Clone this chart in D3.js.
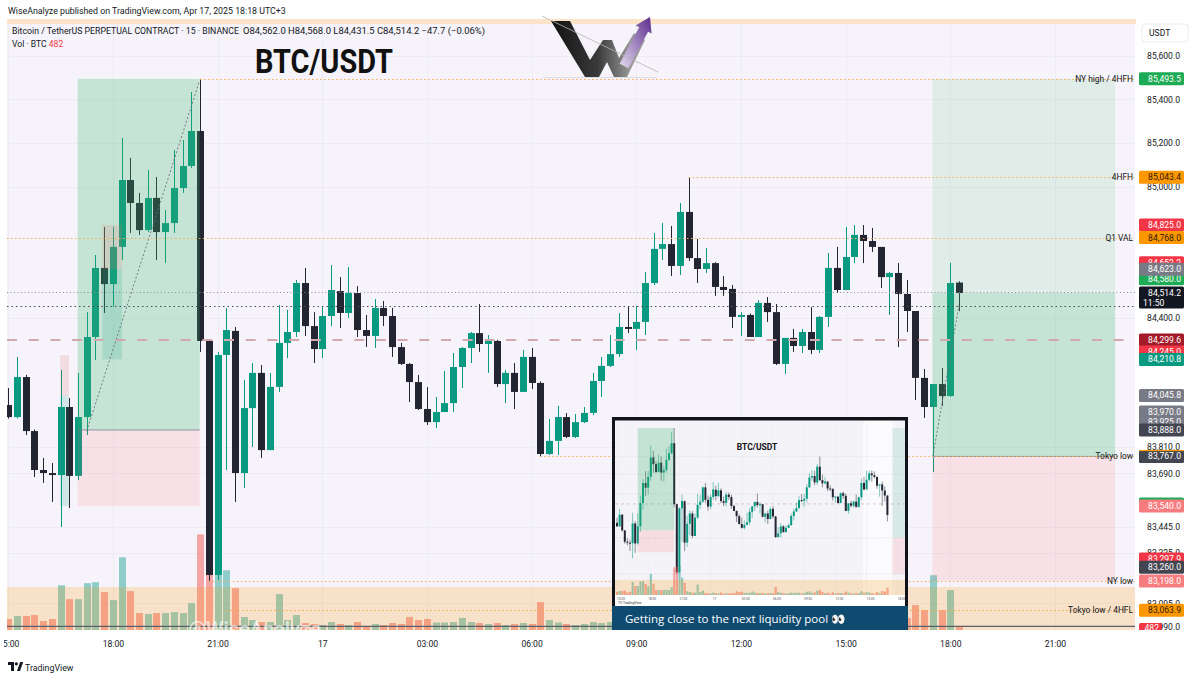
<!DOCTYPE html>
<html><head><meta charset="utf-8">
<script src="https://cdn.jsdelivr.net/npm/d3@7/dist/d3.min.js"></script>
<style>
html,body{margin:0;padding:0;background:#fff;}
svg{display:block;font-family:Roboto,"Noto Sans",sans-serif;}
</style></head><body>
<svg id="chart" width="1200" height="680"></svg>
<script>
// ---------------- DATA ----------------
const opens = [84002,83947,84130,83883,83705,83691,83682,83993,83678,83947,
84313,84629,84555,84725,85031,84926,84802,84949,84793,84834,
84994,85095,85255,84295,83225,84231,84341,83691,83988,84149,
83796,84085,84286,84336,84560,84363,84258,84409,84523,84423,
84514,84345,84318,84446,84409,84267,84190,84107,83984,83924,
83970,84011,84176,84263,84331,84281,84295,84098,84149,84062,
84222,84103,83778,83838,83947,83856,83924,83966,84112,84181,
84235,84359,84350,84382,84560,84716,84738,84638,84885,84674,
84624,84651,84542,84533,84405,84414,84313,84469,84427,84190,
84309,84272,84336,84254,84405,84629,84528,84679,84780,84752,
84725,84587,84606,84510,84432,84126,83993,84098,84043,84562];
const highs = [84080,84222,84140,83890,83760,83737,84162,84034,84149,84427,
84688,84816,84816,85223,85132,84972,85077,85045,84894,85168,
85214,85433,85493.5,84300,84245,84446,84359,84117,84194,84185,
84149,84459,84437,84574,84629,84427,84450,84642,84587,84633,
84546,84414,84487,84478,84446,84286,84194,84139,84084,84039,
84158,84240,84267,84336,84464,84322,84300,84162,84194,84254,
84263,84110,83938,83998,83966,83961,83993,84149,84222,84322,
84423,84455,84455,84610,84789,84834,84821,84926,85043.4,84761,
84720,84655,84592,84551,84427,84420,84482,84496,84464,84309,
84350,84350,84450,84409,84697,84725,84816,84825,84825,84812,
84725,84610,84651,84574,84432,84167,84098,84171,84652.2,84568];
const lows = [83940,83940,83865,83673,83646,83559,83444,83531,83659,83865,
84208,84423,84450,84665,84789,84780,84793,84665,84651,84789,
84972,85086,84245,83198,83202,83705,83559,83623,83810,83760,
83796,84062,84217,84313,84318,84194,84217,84363,84354,84400,
84313,84267,84263,84363,84222,84185,84016,83979,83911,83897,
83970,83970,84080,84194,84245,84149,84084,84011,83984,84062,
84075,83767,83774,83774,83851,83851,83920,83956,84039,84176,
84222,84331,84254,84322,84551,84665,84592,84597,84661,84560,
84606,84501,84501,84354,84318,84313,84313,84382,84185,84144,
84245,84240,84235,84240,84359,84514,84528,84651,84651,84702,
84537,84414,84267,84336,84025,83943,83696,83998,84039,84431.5];
const closes = [83947,84130,83883,83705,83691,83682,83993,83678,83947,84313,
84629,84555,84725,85031,84926,84802,84949,84793,84834,84994,
85095,85255,84295,83225,84231,84345,83691,83988,84149,83796,
84085,84286,84336,84560,84363,84258,84409,84528,84423,84514,
84345,84318,84446,84409,84267,84190,84107,83984,83924,83970,
84011,84176,84263,84331,84281,84295,84098,84149,84062,84222,
84103,83778,83838,83947,83856,83924,83966,84112,84181,84235,
84359,84350,84382,84560,84716,84738,84638,84885,84674,84624,
84651,84542,84528,84405,84414,84313,84469,84427,84190,84309,
84272,84336,84254,84405,84629,84528,84679,84780,84752,84725,
84587,84606,84510,84432,84126,83993,84098,84043,84560,84514.2];
const volumes = [1320,1680,1680,1800,1080,1320,5400,3720,3720,5640,
5760,4560,3600,8760,4680,2040,1920,2040,2040,2160,
2040,3240,11520,11640,12000,7200,5040,1560,1200,960,
960,4320,1200,1800,840,720,600,960,720,600,
960,480,720,600,840,720,1560,1200,1320,900,
900,960,1440,960,840,720,840,600,720,840,
720,3360,1200,900,720,600,720,960,840,960,
900,600,840,1320,1500,900,1080,1800,2100,1200,
720,960,600,1080,600,720,840,600,1440,960,
600,600,720,720,1560,960,1200,1080,720,600,
1200,840,1680,1440,3000,2400,6600,2400,4800,482];

const timeTickIndex = [0,12,24,36,48,60,72,84,96,108,120];
const timeTickLabels = ["15:00","18:00","21:00","17","03:00","06:00","09:00","12:00","15:00","18:00","21:00"];
const priceTicks = [85600,85400,85200,85000,84400,83810,83690,83445,83325,83095,82990];

const levelNames  = ["NY high / 4HFH","4HFH","Q1 VAL","Tokyo low","NY low","Tokyo low / 4HFL"];
const levelPrices = [85493.5,85043.4,84768.0,83767.0,83198.0,83063.9];
const levelStart  = [22,78,-2,61,23,25];

const tagPrices = [84652.2,84580.0,84623.0,85493.5,85043.4,84825.0,84768.0,84299.6,84245.0,84210.8,84045.8,83970.0,83925.0,83888.0,83767.0,83550.0,83540.0,83297.9,83260.0,83198.0,83063.9];
const tagColors = ["#f23645","#1eab55","#787b86","#1eab55","#ff9800","#f23645","#ff9800","#a31b28","#f23645","#089981","#787b86","#787b86","#787b86","#434651","#434651","#1eab55","#f77c80","#f23645","#434651","#f77c80","#ff9800"];
const lastPrice = 84514.2, lastCountdown = "11:50", lastVolume = 482;
const dashedLevel = 84299.6, prevLevel = 84455, baseLine = 82990, bandTop = 83170;

// position tools: [startIdx, endIdx, target, entry, stop]
const posLeft  = [7.95, 21.95, 85493.5, 83888.0, 83540.0];
const posRight = [105.95, 126.9, 85493.5, 83767.0, 83198.0];

// ---------------- SCALES ----------------
const svg = d3.select("#chart");
const defs = svg.append("defs");
const PL=7, PR=1135, PT=24, PB=630;
const xS = d3.scaleLinear().domain([0,108]).range([8.2, 8.2+108*8.723]);
const yS = d3.scaleLinear().domain([83000,85600]).range([318+1400*0.2187, 318-1200*0.2187]);
const vS = d3.scaleLinear().domain([0,12000]).range([PB, PB-99.6]);
const fmt = d3.format(",.1f");
const UP="#089981", DN="#232632";
const idx = d3.range(opens.length);

defs.append("clipPath").attr("id","pane").append("rect").attr("x",PL).attr("y",PT).attr("width",PR-PL).attr("height",PB-PT);
defs.append("clipPath").attr("id","taxis").append("rect").attr("x",4).attr("y",-8).attr("width",PR-4).attr("height",24);

svg.append("rect").attr("width",1200).attr("height",680).attr("fill","#fff");
svg.append("text").attr("x",8).attr("y",14).attr("font-size",8.8).attr("fill","#131722")
  .text("WiseAnalyze published on TradingView.com, Apr 17, 2025 18:18 UTC+3");

// pane
svg.append("rect").attr("x",PL).attr("y",PT).attr("width",PR-PL).attr("height",PB-PT).attr("fill","#f6f4fa");
svg.append("rect").attr("x",PL).attr("y",19).attr("width",PR-PL+2).attr("height",5).attr("fill","#fde4c8");
const pane = svg.append("g").attr("clip-path","url(#pane)");

// grid
pane.selectAll("line.vg").data(timeTickIndex).join("line")
  .attr("x1",d=>Math.round(xS(d))+0.5).attr("x2",d=>Math.round(xS(d))+0.5).attr("y1",PT).attr("y2",PB)
  .attr("stroke","#eeecf3").attr("stroke-width",1);
pane.selectAll("line.hg").data(priceTicks).join("line")
  .attr("y1",d=>Math.round(yS(d))+0.5).attr("y2",d=>Math.round(yS(d))+0.5).attr("x1",PL).attr("x2",PR)
  .attr("stroke","#eeecf3").attr("stroke-width",1);

// volume
pane.selectAll("rect.vol").data(idx).join("rect")
  .attr("x",i=>Math.round(xS(i))-3).attr("width",7)
  .attr("y",i=>vS(volumes[i])).attr("height",i=>PB-vS(volumes[i]))
  .attr("fill",i=>closes[i]>=opens[i]?"rgba(38,166,154,0.5)":"rgba(239,83,80,0.5)");

// candles
function drawCandles(g, xs, ys, n, bw, ww){
  const gg = g.append("g");
  const ids = d3.range(n);
  gg.selectAll("line").data(ids).join("line")
    .attr("x1",i=>xs(i)).attr("x2",i=>xs(i))
    .attr("y1",i=>ys(highs[i])).attr("y2",i=>ys(lows[i]))
    .attr("stroke",i=>closes[i]>=opens[i]?UP:DN).attr("stroke-width",ww);
  gg.selectAll("rect").data(ids).join("rect")
    .attr("x",i=>xs(i)-bw/2).attr("width",bw)
    .attr("y",i=>ys(Math.max(opens[i],closes[i])))
    .attr("height",i=>Math.max(1,Math.abs(ys(opens[i])-ys(closes[i]))))
    .attr("fill",i=>closes[i]>=opens[i]?UP:DN);
}
drawCandles(pane, i=>Math.round(xS(i))+0.5, yS, opens.length, 7, 1);

// position tools (on top, translucent)
function posBox(g, xs, ys, p, upperAlpha, full){
  const x0=xs(p[0]), x1=xs(p[1]);
  if(full){
    g.append("rect").attr("x",x0).attr("width",x1-x0).attr("y",ys(p[2])).attr("height",ys(p[3])-ys(p[2])).attr("fill","rgba(60,180,110,0.26)");
  } else {
    g.append("rect").attr("x",x0).attr("width",x1-x0).attr("y",ys(p[2])).attr("height",ys(lastPrice)-ys(p[2])).attr("fill","rgba(60,180,110,"+upperAlpha+")");
    g.append("rect").attr("x",x0).attr("width",x1-x0).attr("y",ys(lastPrice)).attr("height",ys(p[3])-ys(lastPrice)).attr("fill","rgba(60,180,110,0.26)");
  }
  g.append("rect").attr("x",x0).attr("width",x1-x0).attr("y",ys(p[3])).attr("height",ys(p[4])-ys(p[3])).attr("fill","rgba(255,90,100,0.12)");
  g.append("line").attr("x1",x0).attr("x2",x1).attr("y1",ys(p[3])).attr("y2",ys(p[3])).attr("stroke","#7b7f8a").attr("stroke-width",0.8);
}
posBox(pane, xS, yS, posLeft, 0.26, true);
posBox(pane, xS, yS, posRight, 0.12, false);
// small short-position tools
function smallPos(x0,x1,top,entry,bottom){
  pane.append("rect").attr("x",xS(x0)).attr("width",xS(x1)-xS(x0)).attr("y",yS(top)).attr("height",yS(entry)-yS(top)).attr("fill","rgba(230,110,110,0.18)");
  pane.append("rect").attr("x",xS(x0)).attr("width",xS(x1)-xS(x0)).attr("y",yS(entry)).attr("height",yS(bottom)-yS(entry)).attr("fill","rgba(8,153,129,0.16)");
}
smallPos(10.8,13.05,84825,84623,84210.8);
smallPos(5.95,6.95,84230,84045.8,83540);

// diagonal dotted lines
pane.append("line").attr("x1",xS(9)).attr("y1",yS(83883)).attr("x2",xS(21.9)).attr("y2",yS(85480))
  .attr("stroke","#6a6d78").attr("stroke-width",0.9).attr("stroke-dasharray","2,2");
pane.append("line").attr("x1",xS(106)).attr("y1",yS(83767)).attr("x2",xS(109)).attr("y2",yS(84460))
  .attr("stroke","#6a6d78").attr("stroke-width",0.9).attr("stroke-dasharray","2,2");

// horizontal lines
pane.append("line").attr("x1",PL).attr("x2",PR).attr("y1",yS(dashedLevel)).attr("y2",yS(dashedLevel))
  .attr("stroke","#d3a9b0").attr("stroke-width",2).attr("stroke-dasharray","10,11.7");
pane.append("line").attr("x1",PL).attr("x2",PR).attr("y1",Math.round(yS(lastPrice))-0.5).attr("y2",Math.round(yS(lastPrice))-0.5)
  .attr("stroke","#8d909a").attr("stroke-width",1).attr("stroke-dasharray","1,2.5");
pane.append("line").attr("x1",PL).attr("x2",PR).attr("y1",Math.round(yS(prevLevel))+0.5).attr("y2",Math.round(yS(prevLevel))+0.5)
  .attr("stroke","#4a4d57").attr("stroke-width",1.2).attr("stroke-dasharray","1.5,3");
levelPrices.forEach((p,k)=>{
  const x0 = levelStart[k]<0?PL:xS(levelStart[k]);
  pane.append("line").attr("x1",x0).attr("x2",PR).attr("y1",Math.round(yS(p))+0.5).attr("y2",Math.round(yS(p))+0.5)
    .attr("stroke","#f5ad55").attr("stroke-width",1).attr("stroke-dasharray","1.5,2.5");
});
// peach band + base line
pane.append("rect").attr("x",PL).attr("width",PR-PL).attr("y",yS(bandTop)).attr("height",PB-yS(bandTop)).attr("fill","rgba(255,152,0,0.2)");
pane.append("line").attr("x1",PL).attr("x2",PR).attr("y1",yS(baseLine)).attr("y2",yS(baseLine)).attr("stroke","#5d606b").attr("stroke-width",1.2);

// watermark
pane.append("text").attr("x",188).attr("y",636).attr("font-size",20).attr("font-weight",700)
  .attr("fill","rgba(255,255,255,0.6)").text("@WiseAnalyze");

// level labels
levelPrices.forEach((p,k)=>{
  svg.append("text").attr("x",1133).attr("y",yS(p)+3).attr("text-anchor","end")
    .attr("font-size",8.4).attr("fill","#131722").text(levelNames[k]);
});

// legend
svg.append("text").attr("x",12).attr("y",34).attr("font-size",8.6).attr("fill","#131722")
  .attr("textLength",227).attr("lengthAdjust","spacingAndGlyphs")
  .text("Bitcoin / TetherUS PERPETUAL CONTRACT · 15 · BINANCE");
svg.append("text").attr("x",243).attr("y",34).attr("font-size",8.6).attr("fill","#131722")
  .attr("textLength",242).attr("lengthAdjust","spacingAndGlyphs")
  .text("O84,562.0  H84,568.0  L84,431.5  C84,514.2  −47.7 (−0.06%)");
const lg2 = svg.append("text").attr("x",12).attr("y",47).attr("font-size",8.6).attr("fill","#131722");
lg2.append("tspan").text("Vol · BTC  ");
lg2.append("tspan").attr("fill","#f23645").text(String(lastVolume));

// title
svg.append("text").attr("x",255).attr("y",73).attr("font-size",33).attr("font-weight",700)
  .attr("fill","#111").attr("textLength",138).attr("lengthAdjust","spacingAndGlyphs").text("BTC/USDT");

// logo
const wg = defs.append("linearGradient").attr("id","wgrad").attr("x1","0").attr("y1","0").attr("x2","1").attr("y2","0");
wg.append("stop").attr("offset","0%").attr("stop-color","#111");
wg.append("stop").attr("offset","50%").attr("stop-color","#3a3a3a");
wg.append("stop").attr("offset","85%").attr("stop-color","#9a9a9a");
const pg = defs.append("linearGradient").attr("id","pgrad").attr("x1","0").attr("y1","1").attr("x2","1").attr("y2","0");
pg.append("stop").attr("offset","0%").attr("stop-color","#e4dcef");
pg.append("stop").attr("offset","100%").attr("stop-color","#5b2a8c");
svg.append("path").attr("d","M551,21 L570,21 L590,60 L603,40 L612,40 L619,58 L634,33 L645,40 L627,77 L614,77 L607,62 L599,77 L585,77 Z")
  .attr("fill","url(#wgrad)");
svg.append("path").attr("d","M619.6,63.7 L639.2,27.2 L635.6,25.4 L650,17 L651.6,33.6 L648.1,31.8 L628.5,68.3 Z")
  .attr("fill","url(#pgrad)");
svg.append("line").attr("x1",542).attr("y1",16).attr("x2",658).attr("y2",72).attr("stroke","#b5b5b5").attr("stroke-width",0.8);
svg.append("line").attr("x1",543).attr("y1",77.5).attr("x2",657).attr("y2",77.5).attr("stroke","#cfcfcf").attr("stroke-width",0.6);

// ---------------- INSET ----------------
const IX0=615, IY0=420, IX1=905, IY1=606, IPB=595;
defs.append("clipPath").attr("id","inset").append("rect").attr("x",IX0).attr("y",IY0).attr("width",IX1-IX0).attr("height",IPB-IY0);
const xi = d3.scaleLinear().domain([0,1]).range([617,619.6]);
const yi = d3.scaleLinear().domain([85493.5,83198]).range([428,574]);
const vi = d3.scaleLinear().domain([0,12000]).range([IPB,IPB-29]);
svg.append("rect").attr("x",IX0).attr("y",IY0).attr("width",IX1-IX0).attr("height",IY1-IY0).attr("fill","#fff");
const ins = svg.append("g").attr("clip-path","url(#inset)");
ins.append("rect").attr("x",IX0).attr("y",IY0).attr("width",IX1-IX0).attr("height",IPB-IY0).attr("fill","#f4f3f8");
ins.append("rect").attr("x",xi(94.6)).attr("y",IY0).attr("width",xi(105.95)-xi(94.6)).attr("height",IPB-IY0).attr("fill","#fbfbfd");
ins.selectAll("line.g").data(timeTickIndex).join("line").attr("x1",d=>xi(d)).attr("x2",d=>xi(d)).attr("y1",IY0).attr("y2",IPB).attr("stroke","#ecebf1").attr("stroke-width",0.5);
[85043.4,84768,84455,83767,83198].forEach(p=>{
  ins.append("line").attr("x1",IX0).attr("x2",IX1).attr("y1",yi(p)).attr("y2",yi(p)).attr("stroke","#c9c6cf").attr("stroke-width",0.5).attr("stroke-dasharray","1,1.5");
});
ins.append("line").attr("x1",IX0).attr("x2",IX1).attr("y1",yi(dashedLevel)).attr("y2",yi(dashedLevel)).attr("stroke","#d3a9b0").attr("stroke-width",0.7).attr("stroke-dasharray","3,3");
drawCandles(ins, xi, yi, 105, 2, 0.5);
{
  const p=posLeft;
  ins.append("rect").attr("x",xi(p[0])).attr("width",xi(p[1])-xi(p[0])).attr("y",yi(p[2])).attr("height",yi(p[3])-yi(p[2])).attr("fill","rgba(60,180,110,0.26)");
  ins.append("rect").attr("x",xi(p[0])).attr("width",xi(p[1])-xi(p[0])).attr("y",yi(p[3])).attr("height",yi(p[4])-yi(p[3])).attr("fill","rgba(255,90,100,0.14)");
  const q=posRight;
  ins.append("rect").attr("x",xi(q[0])).attr("width",xi(q[1])-xi(q[0])).attr("y",yi(q[2])).attr("height",yi(q[3])-yi(q[2])).attr("fill","rgba(60,180,110,0.14)");
  ins.append("rect").attr("x",xi(q[0])).attr("width",xi(q[1])-xi(q[0])).attr("y",yi(q[3])).attr("height",yi(q[4])-yi(q[3])).attr("fill","rgba(255,90,100,0.12)");
}
ins.selectAll("rect.v").data(d3.range(105)).join("rect")
  .attr("x",i=>xi(i)-1).attr("width",2.2).attr("y",i=>vi(volumes[i])).attr("height",i=>IPB-vi(volumes[i]))
  .attr("fill",i=>closes[i]>=opens[i]?"rgba(38,166,154,0.5)":"rgba(239,83,80,0.5)");
ins.append("rect").attr("x",IX0).attr("width",IX1-IX0).attr("y",yi(bandTop)+4).attr("height",IPB-yi(bandTop)-4).attr("fill","rgba(255,152,0,0.2)");
ins.append("text").attr("x",757).attr("y",450).attr("text-anchor","middle").attr("font-size",8.5).attr("font-weight",700).attr("fill","#111").text("BTC/USDT");
svg.selectAll("text.itl").data(timeTickIndex.slice(0,10)).join("text")
  .attr("x",d=>xi(d)+4).attr("y",599.5).attr("text-anchor","middle").attr("font-size",3.2).attr("fill","#555")
  .text((d,k)=>timeTickLabels[k]);
svg.append("text").attr("x",618).attr("y",604).attr("font-size",3.4).attr("fill","#333").text("TV TradingView");
// border + caption
svg.append("rect").attr("x",612).attr("y",417).attr("width",296).attr("height",3.5).attr("fill","#101418");
svg.append("rect").attr("x",612).attr("y",417).attr("width",3).attr("height",213).attr("fill","#101418");
svg.append("rect").attr("x",905).attr("y",417).attr("width",3).attr("height",213).attr("fill","#101418");
svg.append("rect").attr("x",612).attr("y",606).attr("width",296).attr("height",24).attr("fill","#0f4b70");
svg.append("text").attr("x",625).attr("y",623).attr("font-family","'Open Sans',sans-serif").attr("font-size",11.5).attr("fill","#fff")
  .text("Getting close to the next liquidity pool 👀");

// ---------------- PRICE AXIS ----------------
svg.append("rect").attr("x",PR+1).attr("y",PT-5).attr("width",1200-PR-1).attr("height",PB-PT+5).attr("fill","#fff");
const yAxis = d3.axisRight(yS).tickValues(priceTicks).tickFormat(fmt).tickSize(0).tickPadding(0);
const ya = svg.append("g").attr("transform","translate(1180,0)").call(yAxis);
ya.select(".domain").remove();
ya.selectAll("text").attr("text-anchor","end").attr("font-size",8.6).attr("fill","#131722").attr("font-family","Roboto,sans-serif");
// tags
function tag(p,color,label,tc){
  const yy=yS(p);
  svg.append("rect").attr("x",1139).attr("y",yy-6.5).attr("width",45).attr("height",13).attr("rx",1.5).attr("fill",color);
  svg.append("text").attr("x",1181).attr("y",yy+3).attr("text-anchor","end").attr("font-size",8.6).attr("fill",tc).text(label);
}
tagPrices.forEach((p,k)=>{
  const c=tagColors[k];
  tag(p,c,fmt(p), c==="#ff9800"?"#2a1a00":"#fff");
});
svg.append("rect").attr("x",1139.5).attr("y",yS(83767)-6.5).attr("width",44).attr("height",1.2).attr("fill","#ff9800");
// last price tag with countdown
{
  const yy=yS(lastPrice);
  svg.append("rect").attr("x",1139).attr("y",yy-6.5).attr("width",45).attr("height",22).attr("rx",1.5).attr("fill","#131722");
  svg.append("text").attr("x",1181).attr("y",yy+3).attr("text-anchor","end").attr("font-size",8.6).attr("fill","#fff").text(fmt(lastPrice));
  svg.append("text").attr("x",1143).attr("y",yy+12.5).attr("font-size",8.6).attr("fill","#fff").text(lastCountdown);
}
// volume tag
svg.append("rect").attr("x",1139).attr("y",vS(lastVolume)-3).attr("width",23).attr("height",11).attr("rx",1.5).attr("fill","#f23645");
svg.append("text").attr("x",1159).attr("y",vS(lastVolume)+5.5).attr("text-anchor","end").attr("font-size",8.6).attr("fill","#fff").text(String(lastVolume));
// USDT box
svg.append("rect").attr("x",1142).attr("y",24).attr("width",46).attr("height",18).attr("rx",3).attr("fill","#fff").attr("stroke","#eceaf0");
svg.append("text").attr("x",1149).attr("y",36).attr("font-size",8.6).attr("fill","#131722").text("USDT");

// ---------------- TIME AXIS ----------------
svg.append("rect").attr("x",0).attr("y",PB).attr("width",1200).attr("height",50).attr("fill","#fff");
const xAxis = d3.axisBottom(xS).tickValues(timeTickIndex).tickFormat((d,k)=>timeTickLabels[k]).tickSize(0).tickPadding(0);
const xa = svg.append("g").attr("transform","translate(0,641)").attr("clip-path","url(#taxis)").call(xAxis);
xa.select(".domain").remove();
xa.selectAll("text").attr("font-size",8.6).attr("fill","#131722").attr("font-family","Roboto,sans-serif").attr("dy","0.71em").attr("y",0);
// footer
svg.append("path").attr("d","M8,662 h6 v9 h-3 v-6 h-3 Z").attr("fill","#131722");
svg.append("circle").attr("cx",16.3).attr("cy",663.8).attr("r",1.6).attr("fill","#131722");
svg.append("path").attr("d","M17,671 l3.2,-9 h3 l-3.2,9 Z").attr("fill","#131722");
svg.append("text").attr("x",25).attr("y",670.5).attr("font-size",8.8).attr("fill","#131722").text("TradingView");
</script></body></html>
